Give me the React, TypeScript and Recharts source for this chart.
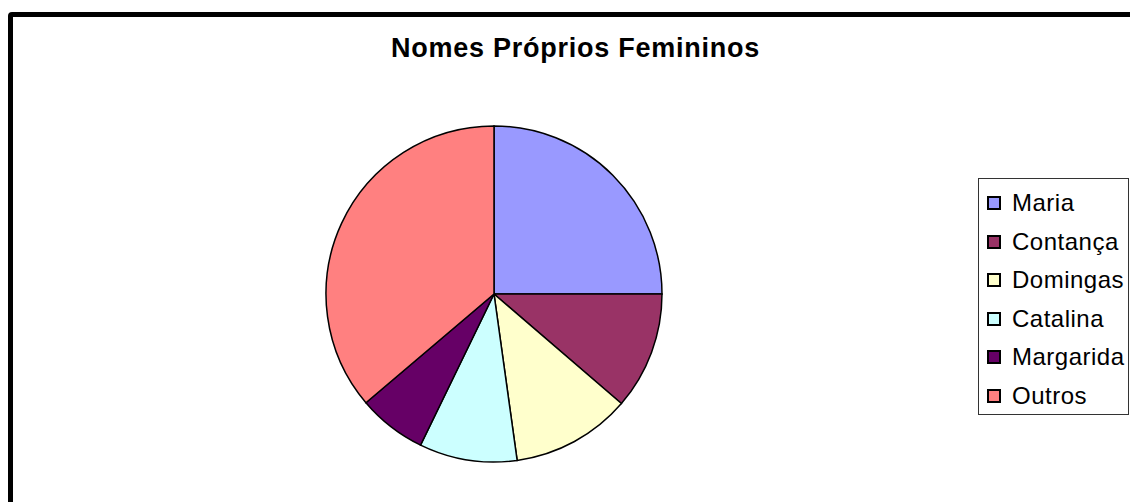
import React from 'react'
import { Cell, Legend, Pie, PieChart } from 'recharts'

const names = ['Maria', 'Contança', 'Domingas', 'Catalina', 'Margarida', 'Outros']
const values = [25, 11.3, 11.5, 9.4, 6.6, 36.2]
const colors = ['#9999FF', '#993366', '#FFFFCC', '#CCFFFF', '#660066', '#FF8080']
const title = 'Nomes Próprios Femininos'

const data = names.map((name, i) => ({ name, value: values[i] }))

const font = '"Liberation Sans", Arial, sans-serif'

const LegendBox = () => (
  <div
    style={{
      width: 151,
      height: 237,
      boxSizing: 'border-box',
      border: '1px solid #333',
      background: '#fff',
      paddingTop: 5,
      fontFamily: font,
      fontSize: 24,
      letterSpacing: 0.5,
      color: '#000'
    }}
  >
    {names.map((name, i) => (
      <div key={name} style={{ height: 38.5, display: 'flex', alignItems: 'center' }}>
        <span
          style={{
            display: 'inline-block',
            width: 14,
            height: 14,
            boxSizing: 'border-box',
            marginLeft: 8,
            marginRight: 11,
            border: '2px solid #000',
            background: colors[i]
          }}
        />
        <span>{name}</span>
      </div>
    ))}
  </div>
)

const App: React.FC = () => {
  return (
    <div style={{ position: 'fixed', left: 0, top: 0, width: 1130, height: 502, overflow: 'hidden', background: '#fff' }}>
      <div
        style={{
          position: 'absolute',
          left: 8,
          top: 12,
          width: 1300,
          height: 700,
          border: '5px solid #000',
          borderRadius: 4,
          boxSizing: 'border-box'
        }}
      />
      <div
        style={{
          position: 'absolute',
          left: 0,
          top: 33,
          width: 1151,
          textAlign: 'center',
          fontFamily: font,
          fontWeight: 'bold',
          fontSize: 27,
          letterSpacing: 0.75,
          lineHeight: '30px',
          color: '#000'
        }}
      >
        {title}
      </div>
      <div style={{ position: 'absolute', left: 0, top: 0 }}>
        <PieChart width={1130} height={502} margin={{ top: 0, right: 0, bottom: 0, left: 0 }}>
          <Pie
            data={data}
            dataKey='value'
            nameKey='name'
            cx={494}
            cy={294}
            outerRadius={168}
            startAngle={90}
            endAngle={-270}
            stroke='#000'
            strokeWidth={1.5}
            isAnimationActive={false}
          >
            {data.map((d, i) => (
              <Cell key={d.name} fill={colors[i]} />
            ))}
          </Pie>
          <Legend
            content={() => <LegendBox />}
            wrapperStyle={{ position: 'absolute', left: 978, top: 178, width: 151, height: 237 }}
          />
        </PieChart>
      </div>
    </div>
  )
}

export default App
